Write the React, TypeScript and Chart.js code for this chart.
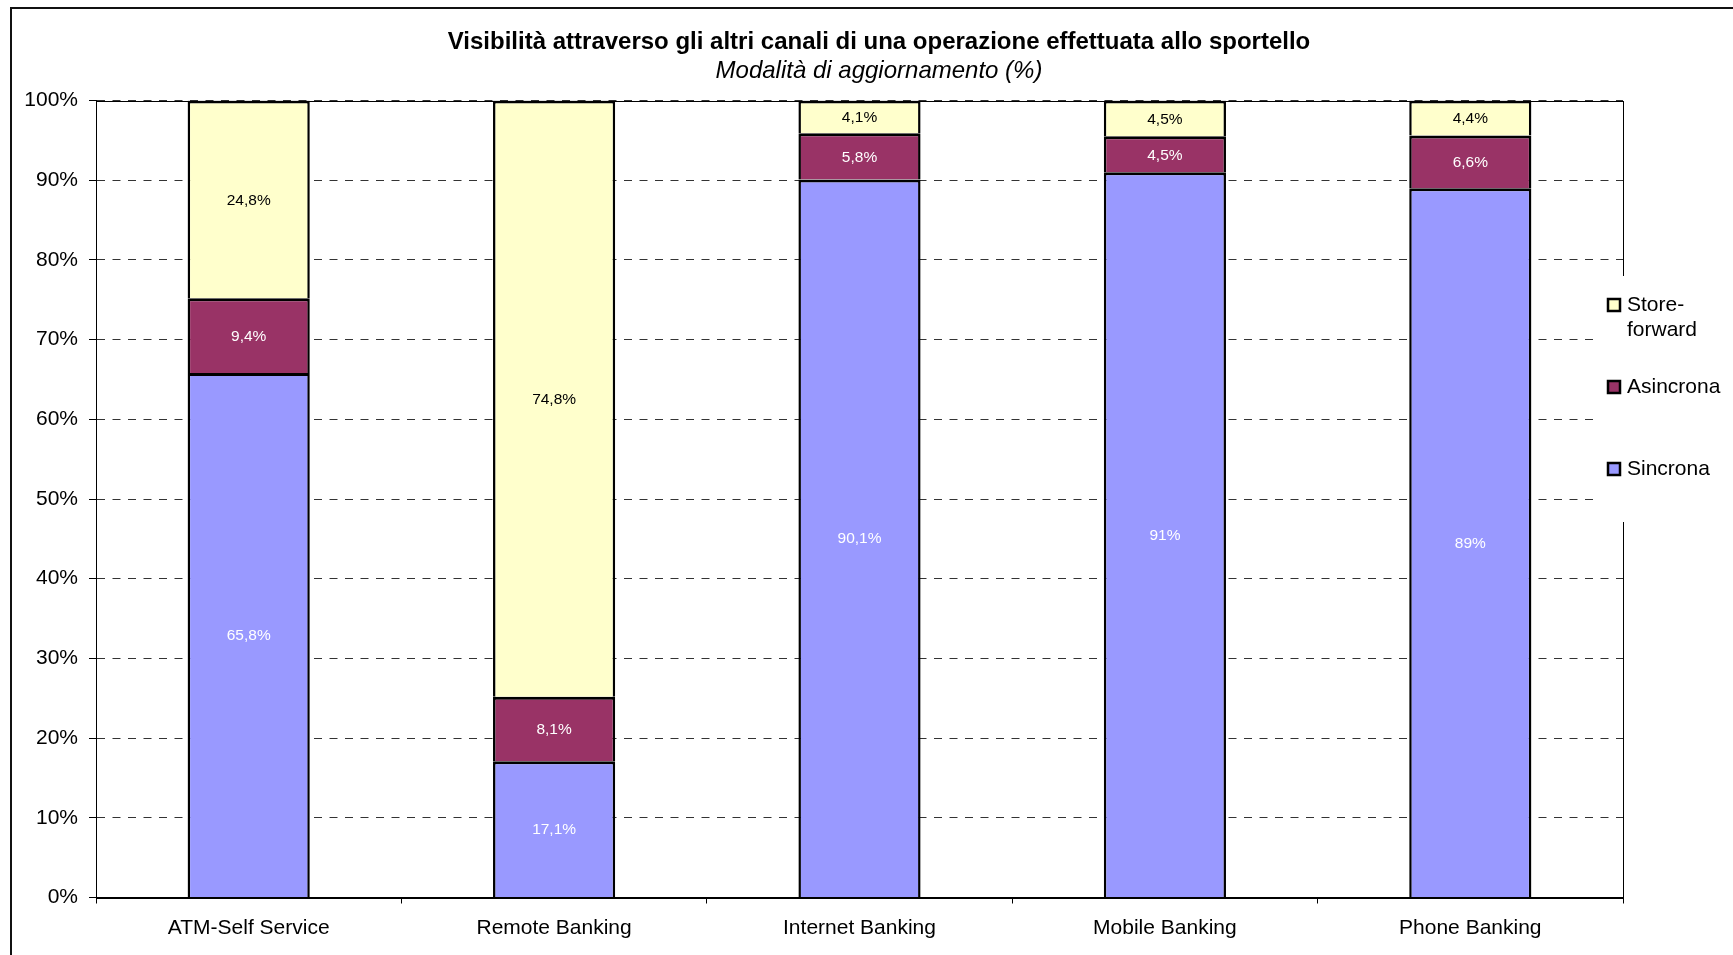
import React, { useEffect, useRef } from "react";
import { Chart, registerables } from "chart.js";

Chart.register(...registerables);

// ---------- data ----------
const categories = ["ATM-Self Service", "Remote Banking", "Internet Banking", "Mobile Banking", "Phone Banking"];
const sincrona = [65.8, 17.1, 90.1, 91, 89];
const asincrona = [9.4, 8.1, 5.8, 4.5, 6.6];
const storeForward = [24.8, 74.8, 4.1, 4.5, 4.4];
const seriesNames = ["Sincrona", "Asincrona", "Store-forward"];
const yMin = 0;
const yMax = 100;
const yStep = 10;
const titleText = "Visibilità attraverso gli altri canali di una operazione effettuata allo sportello";
const subtitleText = "Modalità di aggiornamento (%)";

// ---------- style ----------
const FONT = '"Liberation Sans", Arial, Helvetica, sans-serif';
const COLORS = ["#9999FF", "#993366", "#FFFFCC"];
const LABEL_COLORS = ["#FFFFFF", "#FFFFFF", "#000000"];

const fmt = (v: number) => String(v).replace(".", ",") + "%";

const backgroundPlugin = {
  id: "bgFrame",
  beforeDraw(chart: any) {
    const { ctx, width, height } = chart;
    ctx.save();
    ctx.fillStyle = "#FFFFFF";
    ctx.fillRect(0, 0, width, height);
    ctx.strokeStyle = "#111";
    ctx.lineWidth = 2;
    ctx.beginPath();
    ctx.moveTo(11, height + 5);
    ctx.lineTo(11, 8);
    ctx.lineTo(width + 5, 8);
    ctx.stroke();
    ctx.restore();
  },
  beforeDatasetsDraw(chart: any) {
    const { ctx, chartArea } = chart;
    ctx.save();
    ctx.strokeStyle = "#000";
    ctx.lineWidth = 1;
    ctx.strokeRect(
      Math.round(chartArea.left) + 0.5,
      Math.round(chartArea.top) + 0.5,
      Math.round(chartArea.right - chartArea.left),
      Math.round(chartArea.bottom - chartArea.top)
    );
    ctx.restore();
  },
};

const titlePlugin = {
  id: "customTitle",
  afterDraw(chart: any) {
    const { ctx, chartArea } = chart;
    const cx = (chartArea.left + chartArea.right) / 2 + 19.5;
    ctx.save();
    ctx.fillStyle = "#000";
    ctx.textAlign = "center";
    ctx.textBaseline = "middle";
    ctx.font = `bold 24px ${FONT}`;
    ctx.fillText(titleText, cx, 42);
    ctx.font = `italic 24px ${FONT}`;
    ctx.fillText(subtitleText, cx, 71.5);
    ctx.restore();
  },
};

const dataLabelPlugin = {
  id: "dataLabels",
  afterDatasetsDraw(chart: any) {
    const { ctx } = chart;
    ctx.save();
    ctx.font = `15.5px ${FONT}`;
    ctx.textAlign = "center";
    ctx.textBaseline = "middle";
    chart.data.datasets.forEach((ds: any, i: number) => {
      const meta = chart.getDatasetMeta(i);
      meta.data.forEach((bar: any, j: number) => {
        const v = ds.data[j];
        const { x, y, base } = bar.getProps(["x", "y", "base"], true);
        ctx.fillStyle = ds.labelColor;
        ctx.fillText(fmt(v), x, (y + base) / 2 + 1);
      });
    });
    ctx.restore();
  },
};

const legendPlugin = {
  id: "customLegend",
  afterDraw(chart: any) {
    const { ctx, chartArea, width } = chart;
    const bx = chartArea.right - 25;
    const by = chartArea.top + 175.5;
    const bh = 246;
    ctx.save();
    ctx.fillStyle = "#FFFFFF";
    ctx.fillRect(bx, by, width - bx + 5, bh);
    ctx.font = `21px ${FONT}`;
    ctx.textAlign = "left";
    ctx.textBaseline = "middle";
    const maxW = width - (bx + 29) - 2;
    const items = chart.data.datasets.map((d: any) => d).reverse();
    items.forEach((ds: any, k: number) => {
      const cy = by + 29 + k * 82;
      ctx.fillStyle = ds.backgroundColor;
      ctx.fillRect(bx + 10, cy - 6, 12, 12);
      ctx.strokeStyle = "#000";
      ctx.lineWidth = 2.5;
      ctx.strokeRect(bx + 10, cy - 6, 12, 12);
      let lines: string[] = [ds.label];
      if (ctx.measureText(ds.label).width > maxW && ds.label.includes("-")) {
        const idx = ds.label.indexOf("-");
        lines = [ds.label.slice(0, idx + 1), ds.label.slice(idx + 1)];
      }
      ctx.fillStyle = "#000";
      lines.forEach((ln, li) => ctx.fillText(ln, bx + 29, cy + li * 25));
    });
    ctx.restore();
  },
};

export default function App() {
  const canvasRef = useRef<HTMLCanvasElement | null>(null);

  useEffect(() => {
    if (!canvasRef.current) return;
    const seriesData = [sincrona, asincrona, storeForward];
    const chart = new Chart(canvasRef.current, {
      type: "bar",
      data: {
        labels: categories,
        datasets: seriesNames.map((name, i) => ({
          label: name,
          data: seriesData[i],
          backgroundColor: COLORS[i],
          borderColor: "#000",
          borderWidth: { top: 3, right: 2.5, bottom: 0, left: 2.5 },
          borderSkipped: "start",
          categoryPercentage: 1,
          barPercentage: 0.4,
          labelColor: LABEL_COLORS[i],
        })) as any,
      },
      options: {
        responsive: false,
        animation: false,
        events: [],
        layout: { padding: { left: 0, right: 110, top: 100.5, bottom: 0 } },
        plugins: {
          legend: { display: false },
          tooltip: { enabled: false },
          title: { display: false },
        },
        scales: {
          x: {
            stacked: true,
            grid: {
              display: true,
              drawOnChartArea: false,
              drawTicks: true,
              tickLength: 6,
              color: "#000",
              offset: true,
            },
            border: { display: true, color: "#000", width: 1 },
            ticks: {
              color: "#000",
              font: { family: FONT, size: 21 },
              padding: 12,
              maxRotation: 0,
              autoSkip: false,
            },
            afterFit: (s: any) => {
              s.height = 57.5;
            },
          },
          y: {
            stacked: true,
            min: yMin,
            max: yMax,
            ticks: {
              stepSize: yStep,
              callback: (v: any) => v + "%",
              color: "#000",
              font: { family: FONT, size: 21 },
              padding: 11,
            },
            grid: {
              color: "#333",
              lineWidth: 1,
              drawTicks: true,
              tickLength: 7,
              tickColor: "#000",
            },
            border: { display: true, color: "#000", width: 1, dash: [8, 7.5] },
            afterFit: (s: any) => {
              s.width = 96;
            },
          },
        },
      },
      plugins: [backgroundPlugin, dataLabelPlugin, titlePlugin, legendPlugin],
    });
    return () => chart.destroy();
  }, []);

  return (
    <div style={{ position: "fixed", left: 0, top: 0, width: 1733, height: 955, overflow: "hidden", background: "#fff" }}>
      <canvas ref={canvasRef} width={1733} height={955} style={{ display: "block", width: 1733, height: 955 }} />
    </div>
  );
}
